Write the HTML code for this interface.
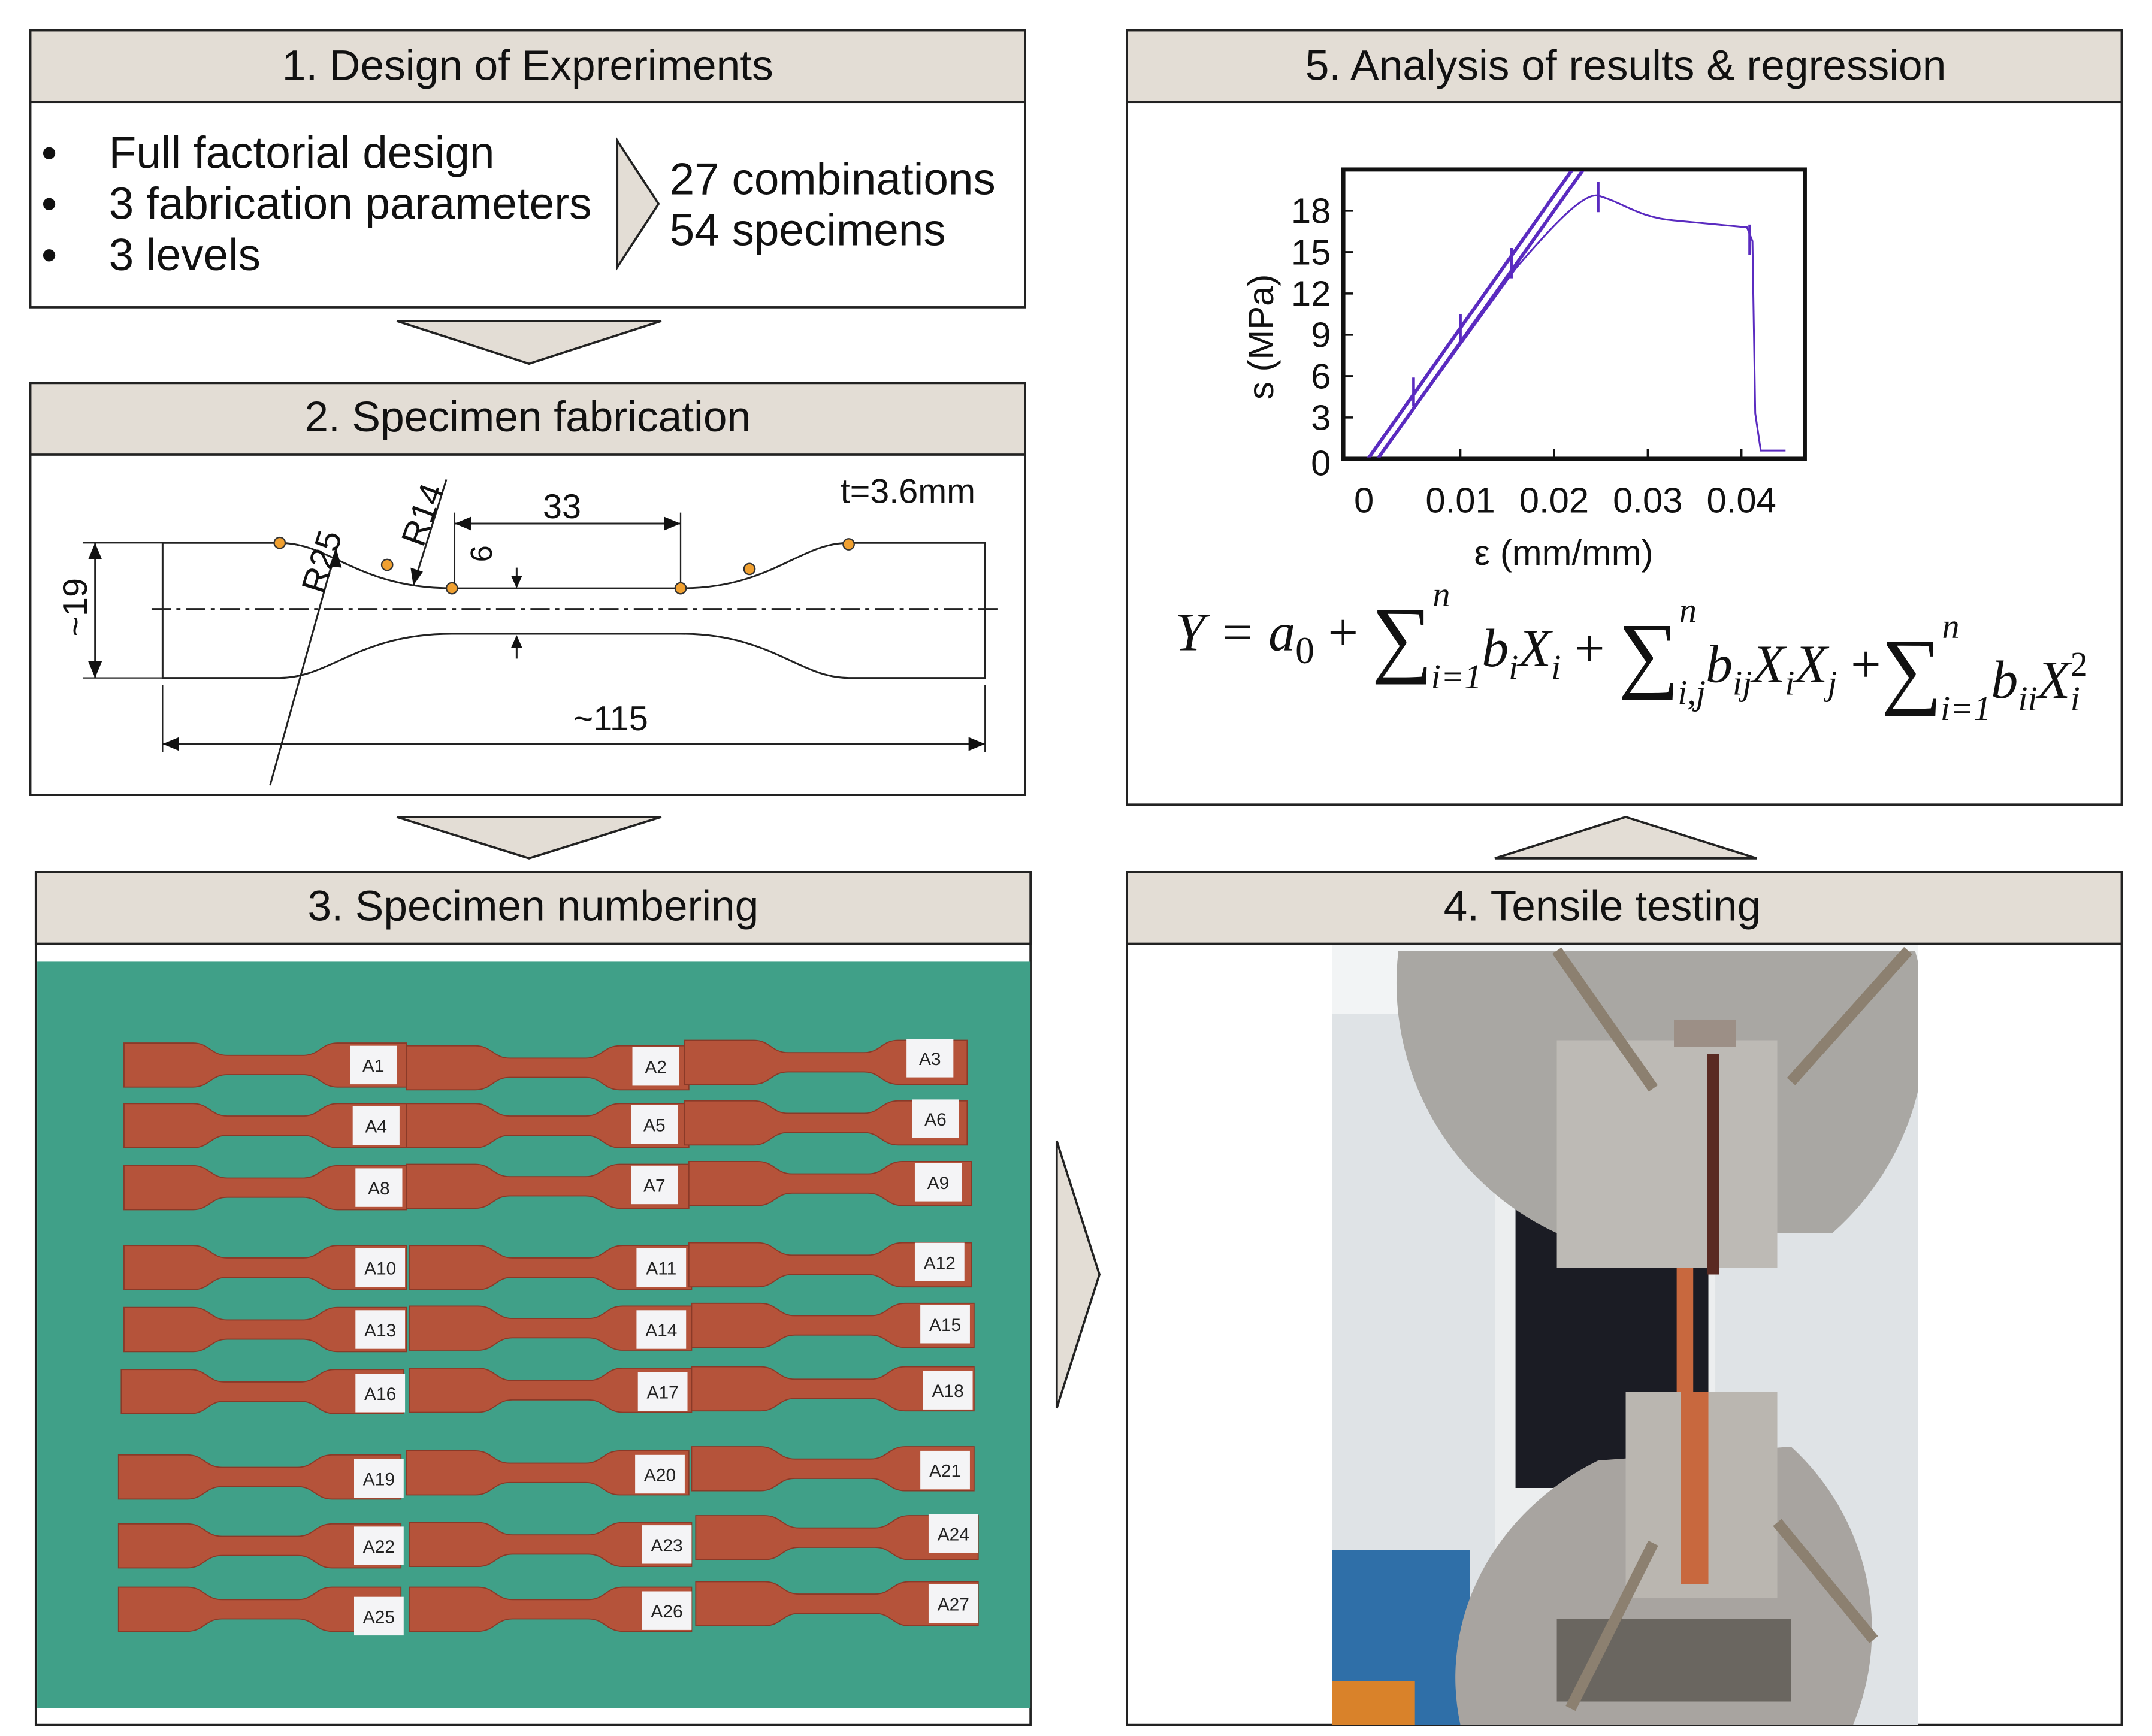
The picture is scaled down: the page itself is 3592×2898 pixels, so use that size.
<!DOCTYPE html>
<html><head><meta charset="utf-8"><style>html,body{margin:0;padding:0;background:#fff}svg{display:block}</style></head>
<body>
<svg width="3592" height="2898" viewBox="0 0 1562 1260" preserveAspectRatio="none" xmlns="http://www.w3.org/2000/svg" font-family="Liberation Sans, sans-serif">
<defs>
<path id="sp" d="M0,0 H50 C62,0 63,9 75,9 H130 C142,9 143,0 155,0 H205 V32 H155 C143,32 142,23 130,23 H75 C63,23 62,32 50,32 H0 Z" fill="#b5533a" stroke="#8a3a28" stroke-width="0.8"/>
<clipPath id="mc"><rect x="967" y="686" width="425" height="566"/></clipPath>
<clipPath id="cc"><rect x="976" y="124" width="333" height="208"/></clipPath>
</defs>
<rect width="1562" height="1260" fill="#fff"/>
<g stroke="#222" stroke-width="1.6">
<rect x="22" y="22" width="722" height="201" fill="#fff"/>
<rect x="22" y="22" width="722" height="52" fill="#e3ddd5"/>
<rect x="22" y="278" width="722" height="299" fill="#fff"/>
<rect x="22" y="278" width="722" height="52" fill="#e3ddd5"/>
<rect x="26" y="633" width="722" height="619" fill="#fff"/>
<rect x="26" y="633" width="722" height="52" fill="#e3ddd5"/>
<rect x="818" y="633" width="722" height="619" fill="#fff"/>
<rect x="818" y="633" width="722" height="52" fill="#e3ddd5"/>
<rect x="818" y="22" width="722" height="562" fill="#fff"/>
<rect x="818" y="22" width="722" height="52" fill="#e3ddd5"/>
<polygon points="288,233 480,233 384,264" fill="#e3ddd5"/>
<polygon points="288,593 480,593 384,623" fill="#e3ddd5"/>
<polygon points="1085,623 1275,623 1180,593" fill="#e3ddd5"/>
<polygon points="767,828 798,925 767,1022" fill="#e3ddd5"/>
<polygon points="448,102 478,148 448,194" fill="#e3ddd5"/>
</g>
<g font-size="31" fill="#111" text-anchor="middle">
<text x="383" y="58">1. Design of Expreriments</text>
<text x="383" y="313">2. Specimen fabrication</text>
<text x="387" y="668">3. Specimen numbering</text>
<text x="1163" y="668">4. Tensile testing</text>
<text x="1180" y="58">5. Analysis of results &amp; regression</text>
</g>
<g font-size="32.5" fill="#111">
<text x="30" y="122">•</text><text x="30" y="159">•</text><text x="30" y="196">•</text>
<text x="79" y="122">Full factorial design</text>
<text x="79" y="159">3 fabrication parameters</text>
<text x="79" y="196">3 levels</text>
<text x="486" y="141">27 combinations</text>
<text x="486" y="178">54 specimens</text>
</g>
<g fill="none" stroke="#222" stroke-width="1.3">
<path d="M118,394 H203 C240,394 260,427 328,427 H494 C560,427 580,394 616,394 H715 V492 H616 C580,492 560,460 494,460 H328 C260,460 240,492 203,492 H118 Z"/>
<line x1="110" y1="442" x2="725" y2="442" stroke-dasharray="14,4,3,4"/>
<line x1="69" y1="394" x2="69" y2="492"/>
<line x1="60" y1="394" x2="118" y2="394" stroke-width="1"/><line x1="60" y1="492" x2="118" y2="492" stroke-width="1"/>
<line x1="118" y1="540" x2="715" y2="540"/>
<line x1="118" y1="497" x2="118" y2="546" stroke-width="1"/><line x1="715" y1="497" x2="715" y2="546" stroke-width="1"/>
<line x1="330" y1="380" x2="494" y2="380"/>
<line x1="330" y1="372" x2="330" y2="427" stroke-width="1"/><line x1="494" y1="372" x2="494" y2="427" stroke-width="1"/>
<line x1="196" y1="570" x2="244" y2="398"/>
<line x1="300" y1="425" x2="324" y2="348"/>
<line x1="375" y1="412" x2="375" y2="426"/><line x1="375" y1="462" x2="375" y2="478"/>
</g>
<g fill="#111">
<polygon points="69,394 64,406 74,406"/><polygon points="69,492 64,480 74,480"/>
<polygon points="118,540 130,535 130,545"/><polygon points="715,540 703,535 703,545"/>
<polygon points="330,380 342,375 342,385"/><polygon points="494,380 482,375 482,385"/>
<polygon points="244,398 239,411 248,412"/><polygon points="300,425 298,412 307,415"/>
<polygon points="375,427 371,418 379,418"/><polygon points="375,461 371,470 379,470"/>
</g>
<g fill="#f0a030" stroke="#333" stroke-width="1">
<circle cx="203" cy="394" r="4"/><circle cx="281" cy="410" r="4"/><circle cx="328" cy="427" r="4"/><circle cx="494" cy="427" r="4"/><circle cx="544" cy="413" r="4"/><circle cx="616" cy="395" r="4"/>
</g>
<g font-size="25" fill="#111">
<text x="610" y="365">t=3.6mm</text>
<text x="394" y="376">33</text>
<text x="416" y="530">~115</text>
<text transform="translate(63,462) rotate(-90)">~19</text>
<text transform="translate(235,432) rotate(-73)">R25</text>
<text transform="translate(307,398) rotate(-70)">R14</text>
<text transform="translate(357,408) rotate(-90)" font-size="22">6</text>
</g>
<rect x="27" y="698" width="721" height="542" fill="#40a088"/>
<g>
<use href="#sp" x="90" y="757"/><use href="#sp" x="295" y="759"/><use href="#sp" x="497" y="755"/>
<use href="#sp" x="90" y="801"/><use href="#sp" x="295" y="801"/><use href="#sp" x="497" y="799"/>
<use href="#sp" x="90" y="846"/><use href="#sp" x="295" y="845"/><use href="#sp" x="500" y="843"/>
<use href="#sp" x="90" y="904"/><use href="#sp" x="297" y="904"/><use href="#sp" x="500" y="902"/>
<use href="#sp" x="90" y="949"/><use href="#sp" x="297" y="948"/><use href="#sp" x="502" y="946"/>
<use href="#sp" x="88" y="994"/><use href="#sp" x="297" y="993"/><use href="#sp" x="502" y="992"/>
<use href="#sp" x="86" y="1056"/><use href="#sp" x="295" y="1053"/><use href="#sp" x="502" y="1050"/>
<use href="#sp" x="86" y="1106"/><use href="#sp" x="297" y="1105"/><use href="#sp" x="505" y="1100"/>
<use href="#sp" x="86" y="1152"/><use href="#sp" x="297" y="1152"/><use href="#sp" x="505" y="1148"/>
</g>
<g fill="#f4f4f6">
<rect x="254" y="759" width="34" height="28"/><rect x="459" y="760" width="34" height="28"/><rect x="658" y="754" width="34" height="28"/>
<rect x="256" y="803" width="34" height="28"/><rect x="458" y="802" width="34" height="28"/><rect x="662" y="798" width="34" height="28"/>
<rect x="258" y="848" width="34" height="28"/><rect x="458" y="846" width="34" height="28"/><rect x="664" y="844" width="34" height="28"/>
<rect x="258" y="906" width="36" height="28"/><rect x="462" y="906" width="36" height="28"/><rect x="664" y="902" width="36" height="28"/>
<rect x="258" y="951" width="36" height="28"/><rect x="462" y="951" width="36" height="28"/><rect x="668" y="947" width="36" height="28"/>
<rect x="258" y="997" width="36" height="28"/><rect x="463" y="996" width="36" height="28"/><rect x="670" y="995" width="36" height="28"/>
<rect x="257" y="1059" width="36" height="28"/><rect x="461" y="1056" width="36" height="28"/><rect x="668" y="1053" width="36" height="28"/>
<rect x="257" y="1108" width="36" height="28"/><rect x="466" y="1107" width="36" height="28"/><rect x="674" y="1099" width="36" height="28"/>
<rect x="257" y="1159" width="36" height="28"/><rect x="466" y="1155" width="36" height="28"/><rect x="674" y="1150" width="36" height="28"/>
</g>
<g font-size="13" fill="#222" text-anchor="middle">
<text x="271" y="778">A1</text><text x="476" y="779">A2</text><text x="675" y="773">A3</text>
<text x="273" y="822">A4</text><text x="475" y="821">A5</text><text x="679" y="817">A6</text>
<text x="275" y="867">A8</text><text x="475" y="865">A7</text><text x="681" y="863">A9</text>
<text x="276" y="925">A10</text><text x="480" y="925">A11</text><text x="682" y="921">A12</text>
<text x="276" y="970">A13</text><text x="480" y="970">A14</text><text x="686" y="966">A15</text>
<text x="276" y="1016">A16</text><text x="481" y="1015">A17</text><text x="688" y="1014">A18</text>
<text x="275" y="1078">A19</text><text x="479" y="1075">A20</text><text x="686" y="1072">A21</text>
<text x="275" y="1127">A22</text><text x="484" y="1126">A23</text><text x="692" y="1118">A24</text>
<text x="275" y="1178">A25</text><text x="484" y="1174">A26</text><text x="692" y="1169">A27</text>
</g>
<g clip-path="url(#mc)">
<rect x="967" y="686" width="425" height="566" fill="#dfe3e6"/>
<rect x="967" y="686" width="425" height="50" fill="#f2f4f5"/>
<rect x="1085" y="830" width="160" height="300" fill="#eceeef"/>
<rect x="1100" y="870" width="140" height="210" fill="#1b1c24"/>
<rect x="967" y="1125" width="100" height="127" fill="#2f6fa8"/>
<rect x="967" y="1220" width="60" height="32" fill="#d9822a"/>
<path d="M1015,690 A200,200 0 0,0 1130,895 H1330 A200,200 0 0,0 1390,690 Z" fill="#a9a7a3"/>
<rect x="1130" y="755" width="160" height="165" fill="#bdbab5"/>
<rect x="1215" y="740" width="45" height="20" fill="#9c8f86"/>
<rect x="1239" y="765" width="9" height="160" fill="#5a2a22"/>
<rect x="1217" y="920" width="12" height="90" fill="#c8683e"/>
<path d="M1060,1252 A200,180 0 0,1 1160,1060 L1300,1050 A180,180 0 0,1 1345,1252 Z" fill="#a8a4a0"/>
<rect x="1180" y="1010" width="110" height="150" fill="#bab6b0"/>
<rect x="1220" y="1010" width="20" height="140" fill="#c8683e"/>
<rect x="1130" y="1175" width="170" height="60" fill="#6a6660"/>
<line x1="1140" y1="1240" x2="1200" y2="1120" stroke="#8c8070" stroke-width="8"/>
<line x1="1290" y1="1105" x2="1360" y2="1190" stroke="#8c8070" stroke-width="8"/>
<line x1="1130" y1="690" x2="1200" y2="790" stroke="#8c8070" stroke-width="8"/>
<line x1="1385" y1="690" x2="1300" y2="785" stroke="#8c8070" stroke-width="8"/>
</g>
<rect x="975" y="123" width="335" height="210" fill="none" stroke="#111" stroke-width="3"/>
<g stroke="#111" stroke-width="1.5">
<line x1="1060" y1="333" x2="1060" y2="326"/><line x1="1128" y1="333" x2="1128" y2="326"/><line x1="1196" y1="333" x2="1196" y2="326"/><line x1="1264" y1="333" x2="1264" y2="326"/>
<line x1="975" y1="153" x2="982" y2="153"/><line x1="975" y1="183" x2="982" y2="183"/><line x1="975" y1="213" x2="982" y2="213"/><line x1="975" y1="243" x2="982" y2="243"/><line x1="975" y1="273" x2="982" y2="273"/><line x1="975" y1="303" x2="982" y2="303"/>
</g>
<g clip-path="url(#cc)" fill="none" stroke="#5a2bc0">
<line x1="993" y1="333" x2="1142" y2="122" stroke-width="2.5"/>
<line x1="1000" y1="333" x2="1150" y2="122" stroke-width="2.5"/>
<path d="M1000,333 L1100,195 C1130,160 1150,140 1160,142 C1180,148 1190,158 1215,160 L1268,165 L1272,175 L1274,300 L1278,327 L1296,327" stroke-width="1.3"/>
<g stroke-width="2"><line x1="1026" y1="274" x2="1026" y2="295"/><line x1="1060" y1="228" x2="1060" y2="248"/><line x1="1097" y1="180" x2="1097" y2="202"/><line x1="1160" y1="132" x2="1160" y2="154"/><line x1="1270" y1="163" x2="1270" y2="185"/></g>
</g>
<g font-size="26" fill="#111">
<g text-anchor="end"><text x="966" y="162">18</text><text x="966" y="192">15</text><text x="966" y="222">12</text><text x="966" y="252">9</text><text x="966" y="282">6</text><text x="966" y="312">3</text><text x="966" y="345">0</text></g>
<g text-anchor="middle"><text x="990" y="372">0</text><text x="1060" y="372">0.01</text><text x="1128" y="372">0.02</text><text x="1196" y="372">0.03</text><text x="1264" y="372">0.04</text>
<text x="1135" y="410">ε (mm/mm)</text></g>
<text transform="translate(924,290) rotate(-90)">s (MPa)</text>
</g>
<g font-family="Liberation Serif, serif" font-style="italic" fill="#111" font-size="34" transform="translate(853,472) scale(1.15) translate(-853,-472)">
<text x="853" y="472">Y = a<tspan font-size="24" dy="8" font-style="normal">0</tspan><tspan dy="-8" font-style="normal"> + </tspan><tspan font-size="54" font-style="normal" dy="10">∑</tspan><tspan font-size="22" dy="-38">n</tspan><tspan font-size="22" dx="-12" dy="52">i=1</tspan><tspan dy="-14">b</tspan><tspan font-size="22" dy="8">i</tspan><tspan dy="-8">X</tspan><tspan font-size="22" dy="8">i</tspan><tspan dy="-8" font-style="normal"> + </tspan><tspan font-size="54" font-style="normal" dy="10">∑</tspan><tspan font-size="22" dy="-38">n</tspan><tspan font-size="22" dx="-12" dy="52">i,j</tspan><tspan dy="-14">b</tspan><tspan font-size="22" dy="8">ij</tspan><tspan dy="-8">X</tspan><tspan font-size="22" dy="8">i</tspan><tspan dy="-8">X</tspan><tspan font-size="22" dy="8">j</tspan><tspan dy="-8" font-style="normal"> +</tspan><tspan font-size="54" font-style="normal" dy="10">∑</tspan><tspan font-size="22" dy="-38">n</tspan><tspan font-size="22" dx="-12" dy="52">i=1</tspan><tspan dy="-14">b</tspan><tspan font-size="22" dy="8">ii</tspan><tspan dy="-8">X</tspan><tspan font-size="22" dy="-14" font-style="normal">2</tspan><tspan font-size="22" dx="-11" dy="22">i</tspan></text>
</g>
</svg>
</body></html>
